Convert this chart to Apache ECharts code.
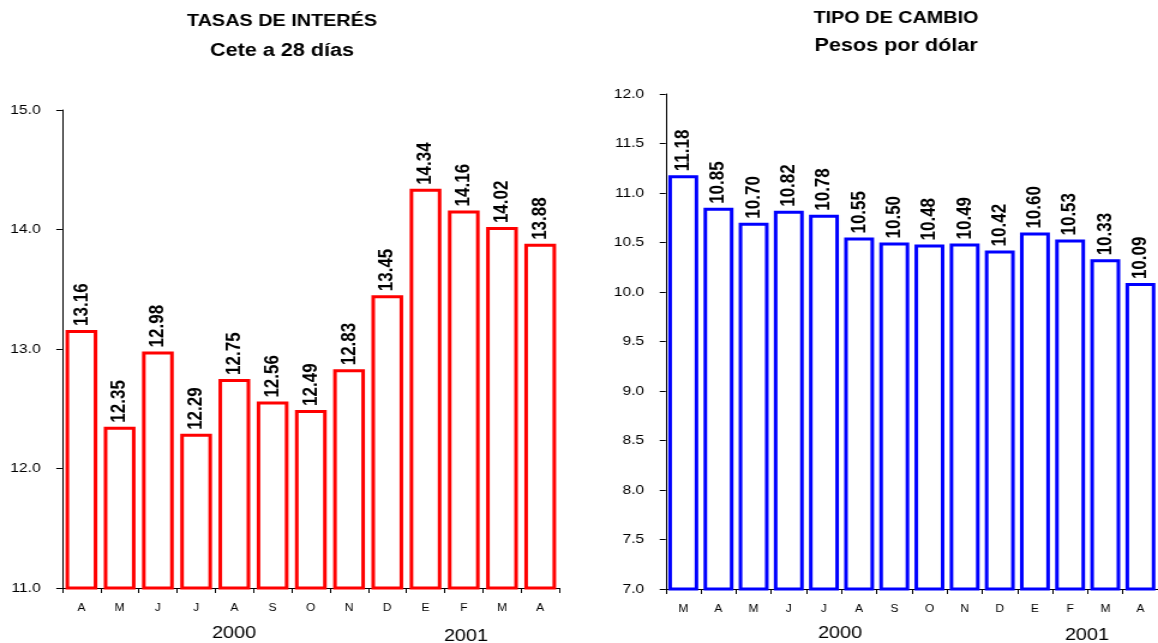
<!DOCTYPE html>
<html>
<head>
<meta charset="utf-8">
<script src="https://cdn.jsdelivr.net/npm/echarts@6/dist/echarts.min.js"></script>
<style>
  html, body { margin: 0; padding: 0; background: #fff; overflow: hidden; }
  /* the chart is laid out narrow and widened, giving the broad lettering of the bulletin */
  #chart { width: 965px; height: 643px; transform: scaleX(1.2); transform-origin: 0 0; }
</style>
</head>
<body>
<div id="chart"></div>
<script>
// Cete a 28 días (Apr 2000 – Apr 2001)
const rateMonths = ['A', 'M', 'J', 'J', 'A', 'S', 'O', 'N', 'D', 'E', 'F', 'M', 'A'];
const rateValues = [13.16, 12.35, 12.98, 12.29, 12.75, 12.56, 12.49, 12.83, 13.45, 14.34, 14.16, 14.02, 13.88];
const rateTicks = [11.0, 12.0, 13.0, 14.0, 15.0];

// Pesos por dólar (Mar 2000 – Apr 2001)
const fxMonths = ['M', 'A', 'M', 'J', 'J', 'A', 'S', 'O', 'N', 'D', 'E', 'F', 'M', 'A'];
const fxValues = [11.18, 10.85, 10.70, 10.82, 10.78, 10.55, 10.50, 10.48, 10.49, 10.42, 10.60, 10.53, 10.33, 10.09];
const fxTicks = [7.0, 7.5, 8.0, 8.5, 9.0, 9.5, 10.0, 10.5, 11.0, 11.5, 12.0];

const FONT = 'Liberation Sans, Arial, sans-serif';

function valueAxis(gridIndex, ticks, step) {
  return {
    type: 'value', gridIndex,
    min: ticks[0], max: ticks[ticks.length - 1], interval: step,
    axisLine: { show: true, lineStyle: { color: '#000', width: 1 } },
    axisTick: { show: true, length: 5, lineStyle: { color: '#000' } },
    axisLabel: { color: '#000', fontFamily: FONT, fontSize: 13, margin: 18,
                 formatter: v => v.toFixed(1) },
    splitLine: { show: false }
  };
}

function categoryAxis(gridIndex, data) {
  return {
    type: 'category', gridIndex, data,
    axisLine: { show: true, lineStyle: { color: '#000', width: 1 } },
    axisTick: { show: true, length: 5, alignWithLabel: false, lineStyle: { color: '#000' } },
    axisLabel: { color: '#000', fontFamily: FONT, fontSize: 10, margin: 15 }
  };
}

function barSeries(idx, data, color, gap) {
  return {
    type: 'bar', xAxisIndex: idx, yAxisIndex: idx, data,
    barCategoryGap: gap,
    itemStyle: { color: '#fff', borderColor: color, borderWidth: 3 },
    label: {
      show: true, position: 'top', rotate: 90, align: 'left', verticalAlign: 'middle',
      distance: 4, color: '#000', fontFamily: FONT, fontWeight: 'bold', fontSize: 17,
      formatter: p => p.value.toFixed(2)
    },
    silent: true, animation: false
  };
}

function text(x, y, str, font) {
  return { type: 'text', x, y,
           style: { text: str, fill: '#000', font: font + ' ' + FONT,
                    textAlign: 'center', textVerticalAlign: 'top' } };
}

const chart = echarts.init(document.getElementById('chart'), null, { renderer: 'canvas' });
chart.setOption({
  backgroundColor: '#fff',
  animation: false,
  grid: [
    { left: 51.9, top: 110, width: 414.2, height: 478 },
    { left: 554.75, top: 94, width: 412.5, height: 495 }
  ],
  xAxis: [categoryAxis(0, rateMonths), categoryAxis(1, fxMonths)],
  yAxis: [valueAxis(0, rateTicks, 1), valueAxis(1, fxTicks, 0.5)],
  series: [
    barSeries(0, rateValues, '#ff0000', '17%'),
    barSeries(1, fxValues, '#0000ff', '15%')
  ],
  graphic: [
    text(235, 13, 'TASAS DE INTERÉS', 'bold 16.5px'),
    text(235, 42, 'Cete a 28 días', 'bold 18px'),
    text(746.7, 10, 'TIPO DE CAMBIO', 'bold 16.5px'),
    text(746.7, 37, 'Pesos por dólar', 'bold 18px'),
    text(195, 625, '2000', '16.5px'),
    text(388.3, 628, '2001', '16.5px'),
    text(700, 625, '2000', '16.5px'),
    text(905.8, 627, '2001', '16.5px')
  ]
});
</script>
</body>
</html>
